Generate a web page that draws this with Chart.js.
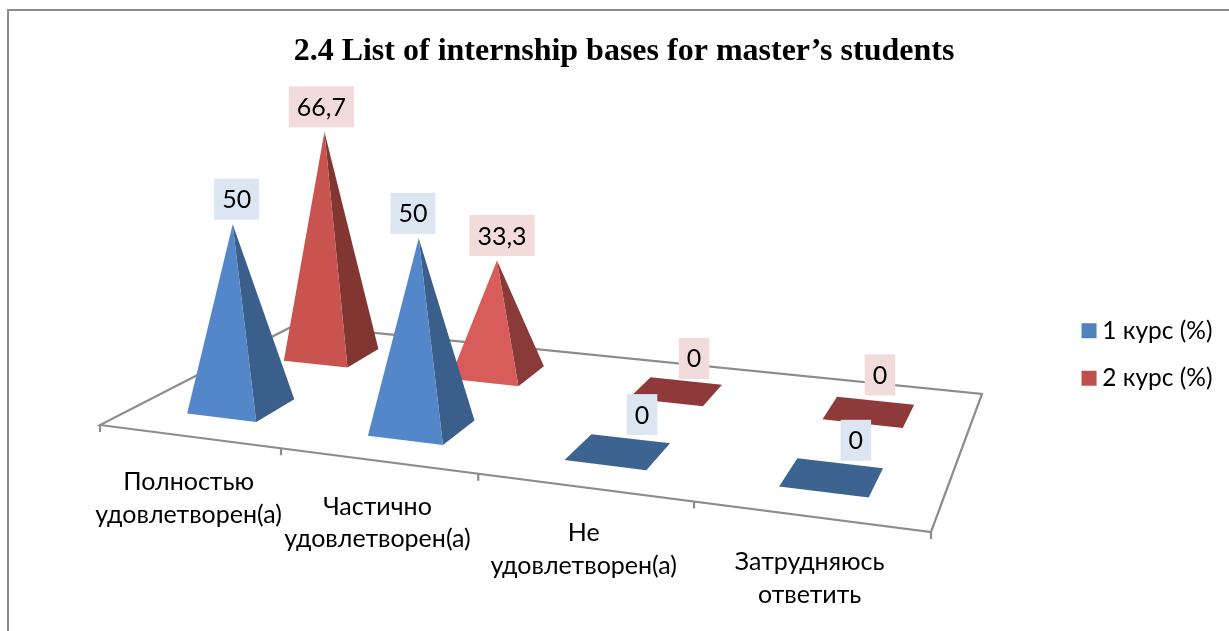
<!DOCTYPE html>
<html><head><meta charset="utf-8">
<style>html,body{margin:0;padding:0;background:#fff}canvas{display:block}</style>
<script src="https://cdn.jsdelivr.net/npm/chart.js@4"></script>
</head><body><canvas id="c" width="1229" height="631"></canvas>
<script>
const categories = [['Полностью','удовлетворен(а)'],['Частично','удовлетворен(а)'],['Не','удовлетворен(а)'],['Затрудняюсь','ответить']];
const course1 = [50, 50, 0, 0];
const course2 = [66.7, 33.3, 0, 0];
const seriesNames = ['1 курс (%)', '2 курс (%)'];
const chartTitle = '2.4 List of internship bases for master’s students';

// Styling of the fake 3-D scene
const legendColors = ['#4F81BD', '#C0504D'];
const frontFaces = [['#5487C9','#5487C9'], ['#C8534F','#D85C59']];
const sideFaces = [['#3A5F8B','#3A5F8B'], ['#823632','#8A3A38']];
const flatFaces = ['#3D6390', '#8F3A3A'];
const labelBoxes = ['#DCE6F2', '#F2DCDB'];
const labelNudgeTip = [[4,-5.7],[-3,5]];
const labelNudgeFlat = [[[24,-37],[24,-37]],[[18,-33],[11,-37]]];
const floor = [[100,425],[931,532],[982,394],[295,325]]; // front-left, front-right, back-right, back-left
const depthCentre = [0.25, 0.75], halfDepth = 0.098, halfWidth = 0.049;
const fullHeight = 360, verticalVanish = 4000;
const UI = 'Lato, Carlito, "Open Sans", sans-serif';

function homography(p){
  const [[x0,y0],[x1,y1],[x2,y2],[x3,y3]] = p;
  const dx1=x1-x2, dx2=x3-x2, sx=x0-x1+x2-x3, dy1=y1-y2, dy2=y3-y2, sy=y0-y1+y2-y3;
  const den=dx1*dy2-dx2*dy1, g=(sx*dy2-dx2*sy)/den, h=(dx1*sy-sx*dy1)/den;
  const a=x1-x0+g*x1, b=x3-x0+h*x3, d=y1-y0+g*y1, e=y3-y0+h*y3;
  return (u,v)=>{const w=g*u+h*v+1; return {x:(a*u+b*v+x0)/w, y:(d*u+e*v+y0)/w, w};};
}
const project = homography(floor);
function poly(ctx, pts, fill){
  ctx.beginPath(); pts.forEach((p,i)=> i?ctx.lineTo(p.x,p.y):ctx.moveTo(p.x,p.y)); ctx.closePath();
  ctx.fillStyle=fill; ctx.fill();
}
const scene = {
  id:'scene',
  afterLayout(chart){ chart.legend.top+=39; chart.legend.bottom+=39; },
  beforeDraw(chart){
    const c=chart.ctx; c.save();
    c.strokeStyle='#8a8a8a'; c.lineWidth=2;
    c.beginPath(); c.moveTo(8,631); c.lineTo(8,10); c.lineTo(1229,10); c.stroke();
    c.restore();
  },
  beforeDatasetsDraw(chart){
    const c=chart.ctx, xs=chart.scales.x, ys=chart.scales.y, area=chart.chartArea;
    const uOf=i=>(xs.getPixelForValue(i)-area.left)/area.width;
    c.save();
    // floor outline
    c.strokeStyle='#8c8c8c'; c.lineWidth=2.2; c.lineJoin='miter';
    c.beginPath(); floor.forEach((p,i)=> i?c.lineTo(p[0],p[1]):c.moveTo(p[0],p[1])); c.closePath(); c.stroke();
    // ticks between categories
    c.beginPath();
    for(let i=0;i<=categories.length;i++){
      const p=project(i/categories.length,0);
      c.moveTo(p.x,p.y); c.lineTo(p.x,p.y+7);
    }
    c.stroke();
    // marks, back series first
    const tips=[];
    for(let ds=chart.data.datasets.length-1;ds>=0;ds--){
      const vals=chart.data.datasets[ds].data;
      vals.forEach((val,i)=>{
        const u=uOf(i), v=depthCentre[ds];
        const fl=project(u-halfWidth,v-halfDepth), fr=project(u+halfWidth,v-halfDepth),
              br=project(u+halfWidth,v+halfDepth), bl=project(u-halfWidth,v+halfDepth), ctr=project(u,v);
        const norm=(ys.getPixelForValue(0)-ys.getPixelForValue(val))/area.height;
        const h0=norm*fullHeight, h=h0/(1-h0/verticalVanish)/ctr.w;
        const top={x:ctr.x-h*(522-ctr.x)*0.000171, y:ctr.y-h};
        if(val>0){
          poly(c,[fr,br,top],sideFaces[ds][i]);
          poly(c,[fl,fr,top],frontFaces[ds][i]);
          tips.push({ds,i,val,x:top.x+labelNudgeTip[ds][i],y:top.y-25});
        }else{
          const n=labelNudgeFlat[ds][i-2];
          poly(c,[fl,fr,br,bl],flatFaces[ds]);
          tips.push({ds,i,val,x:ctr.x+n[0],y:ctr.y+n[1]});
        }
      });
    }
    // category labels under the front edge
    c.fillStyle='#000'; c.textAlign='center'; c.textBaseline='middle'; c.font='25px '+UI;
    xs.getLabels().forEach((lines,i)=>{
      const p=project(uOf(i),0);
      lines.forEach((t,k)=>c.fillText(t,p.x,p.y+46+k*32.5));
    });
    // value labels
    tips.forEach(t=>{
      const s=String(t.val).replace('.',','), tw=c.measureText(s).width;
      const bw=tw+16, bh=41;
      c.fillStyle=labelBoxes[t.ds]; c.fillRect(t.x-bw/2,t.y-bh/2,bw,bh);
      c.fillStyle='#000'; c.fillText(s,t.x,t.y+1);
    });
    c.restore();
    return false;
  }
};
new Chart(document.getElementById('c'),{
  type:'bar',
  data:{labels:categories,datasets:[
    {label:seriesNames[0],data:course1,backgroundColor:legendColors[0],borderWidth:0},
    {label:seriesNames[1],data:course2,backgroundColor:legendColors[1],borderWidth:0}
  ]},
  options:{
    responsive:false,animation:false,
    layout:{padding:{left:25.5,right:6.5,top:0,bottom:0}},
    scales:{x:{display:false},y:{display:false,min:0,max:100}},
    plugins:{
      tooltip:{enabled:false},
      title:{display:true,text:chartTitle,color:'#000',font:{family:'"Liberation Serif"',size:32,weight:'bold'},padding:{top:33,bottom:10}},
      legend:{position:'right',labels:{color:'#000',font:{family:UI,size:24.5},boxWidth:2,boxHeight:15,usePointStyle:true,pointStyle:'rect',padding:23}}
    }
  },
  plugins:[scene]
});
</script></body></html>
